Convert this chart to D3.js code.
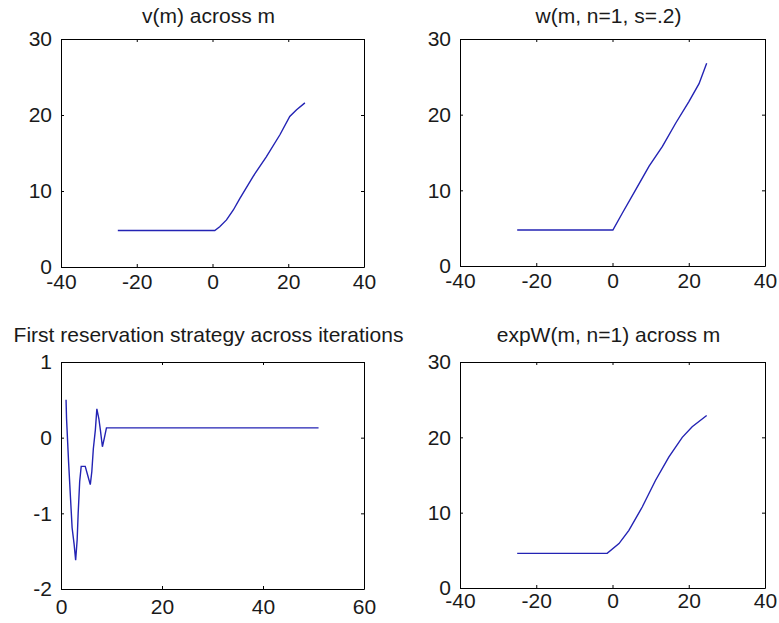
<!DOCTYPE html>
<html lang="en">
<head>
    <meta charset="UTF-8">
    <title>Subplots</title>
    <script src="https://d3js.org/d3.v7.min.js"></script>
    <style>
        body {margin: 0; background: white;}
        text {
            font-family: "Liberation Sans", Arial, sans-serif;
            font-size: 21px;
            fill: #1a1a1a;
        }
        .domain, .tick line {stroke: black;}
    </style>
</head>
<body>
<script>
    const width = 779;
    const height = 623;

    // v(m) across m
    const vM   = [-25, -15, -5, 0.6, 1.9, 3.7, 5.5, 7.2, 10.7, 14.2, 17.8, 20.4, 22.2, 24.4];
    const vVal = [4.8, 4.8, 4.8, 4.8, 5.3, 6.2, 7.5, 9.0, 11.9, 14.5, 17.4, 19.8, 20.7, 21.6];

    // w(m, n=1, s=.2)
    const wM   = [-25, -15, -5, 0.1, 2.6, 6.1, 9.6, 13.1, 16.6, 20.0, 22.7, 24.7];
    const wVal = [4.75, 4.75, 4.75, 4.75, 7.0, 10.1, 13.2, 15.8, 18.9, 21.7, 24.1, 26.8];

    // first reservation strategy across iterations
    const iterX   = [1, 1.1, 1.5, 1.9, 2.2, 2.6, 2.9, 3.2, 3.4, 3.7, 4.0, 4.8, 5.3, 5.8,
                     6.1, 6.4, 6.8, 7.1, 7.5, 7.8, 8.2, 8.6, 9.0, 51];
    const iterVal = [0.5, 0.25, -0.32, -0.82, -1.19, -1.41, -1.62, -1.35, -1.0, -0.58, -0.38, -0.38, -0.5, -0.62,
                     -0.45, -0.15, 0.1, 0.38, 0.25, 0.1, -0.12, 0.0, 0.13, 0.13];

    // expW(m, n=1) across m
    const eM   = [-25, -15, -5, -1.4, 1.7, 4.3, 7.8, 11.3, 14.8, 18.3, 20.9, 24.7];
    const eVal = [4.6, 4.6, 4.6, 4.6, 5.9, 7.65, 10.75, 14.3, 17.4, 20.0, 21.4, 22.9];

    const titles = ["v(m) across m", "w(m, n=1, s=.2)",
                    "First reservation strategy across iterations", "expW(m, n=1) across m"];
    const mTicks    = [-40, -20, 0, 20, 40];
    const valTicks  = [0, 10, 20, 30];
    const iterTicks = [0, 20, 40, 60];
    const stratTicks = [-2, -1, 0, 1];

    const svg = d3.select("body").append("svg")
            .attr("width", width).attr("height", height);

    const panels = [
        {x: mTicks, y: valTicks, xs: vM, ys: vVal, title: titles[0],
         box: [61, 39, 364, 267], padX: 7},
        {x: mTicks, y: valTicks, xs: wM, ys: wVal, title: titles[1],
         box: [460, 39, 765, 266], padX: 7},
        {x: iterTicks, y: stratTicks, xs: iterX, ys: iterVal, title: titles[2],
         box: [61, 362, 364, 589], padX: 10},
        {x: mTicks, y: valTicks, xs: eM, ys: eVal, title: titles[3],
         box: [460, 362, 765, 588], padX: 5}
    ];

    // plain hyphen minus, as in the original figure
    const fmt = d => String(d);

    panels.forEach(drawPanel);

    function drawPanel(p) {
        const [l, t, r, b] = p.box;
        const xScale = d3.scaleLinear()
                .domain(d3.extent(p.x)).range([l, r]);
        const yScale = d3.scaleLinear()
                .domain(d3.extent(p.y)).range([b, t]);

        const g = svg.append("g");

        g.append("g").attr("transform", `translate(0,${b})`)
                .call(d3.axisBottom(xScale).tickValues(p.x).tickFormat(fmt)
                        .tickSizeInner(-3).tickSizeOuter(0).tickPadding(p.padX));
        g.append("g").attr("transform", `translate(${l},0)`)
                .call(d3.axisLeft(yScale).tickValues(p.y).tickFormat(fmt)
                        .tickSizeInner(-3).tickSizeOuter(0).tickPadding(9));
        g.append("g").attr("transform", `translate(0,${t})`)
                .call(d3.axisTop(xScale).tickValues(p.x).tickFormat("")
                        .tickSizeInner(-3).tickSizeOuter(0));
        g.append("g").attr("transform", `translate(${r},0)`)
                .call(d3.axisRight(yScale).tickValues(p.y).tickFormat("")
                        .tickSizeInner(-3).tickSizeOuter(0));

        g.selectAll("g").attr("font-size", null).attr("font-family", null);
        g.selectAll(".tick text").attr("fill", null);

        const line = d3.line()
                .x(i => xScale(p.xs[i]))
                .y(i => yScale(p.ys[i]));

        g.append("path")
                .datum(d3.range(p.xs.length))
                .attr("d", line)
                .style("fill", "none")
                .style("stroke", "#2323b4")
                .style("stroke-width", 1.4);

        g.append("text")
                .attr("x", (l + r) / 2 - 4)
                .attr("y", t - (t < 100 ? 16 : 20))
                .attr("text-anchor", "middle")
                .text(p.title);
    }
</script>
</body>
</html>
